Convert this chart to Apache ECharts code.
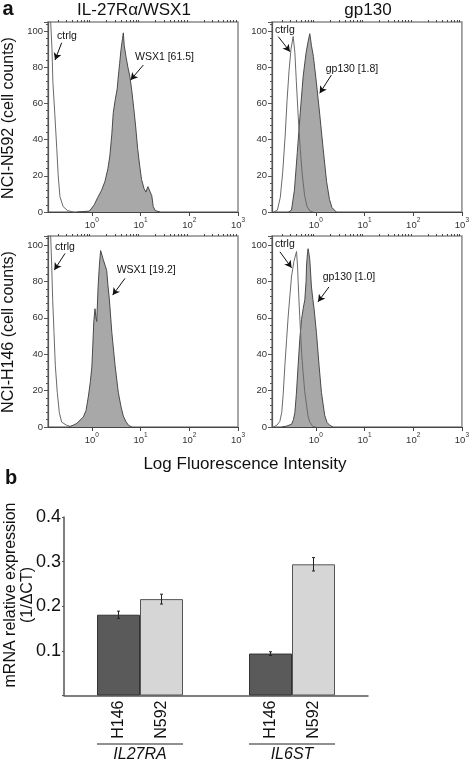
<!DOCTYPE html>
<html>
<head>
<meta charset="utf-8">
<script src="https://cdn.jsdelivr.net/npm/echarts@6/dist/echarts.min.js"></script>
<style>
html,body{margin:0;padding:0;background:#fff;}
#c{width:472px;height:763px;}
</style>
</head>
<body>
<div id="c"></div>
<script>
// ---------- DATA ----------
// Histograms: [log10(fluorescence), cell counts]
const decadeTicks = [0, 1, 2, 3];
const countTicks = [0, 20, 40, 60, 80, 100];

const n592CtrlWsx = [[-0.9,112],[-0.845,105],[-0.818,90],[-0.80,72],[-0.76,54],[-0.72,35],[-0.69,20],[-0.655,8.5],[-0.59,3],[-0.5,0.8],[-0.38,0]];
const n592Wsx1 = [[-0.3,0],[-0.05,0.5],[0.05,4],[0.12,8],[0.2,12],[0.27,17],[0.33,24],[0.37,31],[0.41,43],[0.44,55],[0.48,62],[0.52,68],[0.54,74],[0.57,82],[0.6,90],[0.63,96],[0.646,99],[0.665,92],[0.7,86],[0.74,80],[0.78,75],[0.82,67],[0.87,55],[0.9,47],[0.94,35],[0.98,26],[1.02,18],[1.07,13],[1.11,11],[1.15,14],[1.19,13],[1.23,9],[1.26,3],[1.3,0.8],[1.4,0]];

const n592CtrlGp = [[-0.86,0],[-0.79,1],[-0.73,8],[-0.68,22],[-0.63,42],[-0.59,62],[-0.55,78],[-0.51,90],[-0.465,97],[-0.43,88],[-0.40,72],[-0.36,52],[-0.32,35],[-0.28,21],[-0.23,9],[-0.18,3],[-0.12,0.5],[-0.05,0]];
const n592Gp130 = [[-0.56,0],[-0.5,1],[-0.44,12],[-0.38,33],[-0.32,55],[-0.26,75],[-0.2,88],[-0.16,94],[-0.124,98.5],[-0.09,92],[-0.05,86],[0.01,72],[0.08,54],[0.15,35],[0.22,17],[0.28,7],[0.33,2.5],[0.42,0]];

const h146CtrlWsx = [[-0.9,112],[-0.845,105],[-0.824,89],[-0.804,70],[-0.777,52],[-0.75,34],[-0.71,19],[-0.668,8],[-0.62,2.7],[-0.52,1],[-0.41,0]];
const h146Wsx1 = [[-0.48,0],[-0.38,1],[-0.31,2],[-0.175,5.5],[-0.12,9],[-0.07,17],[-0.03,25],[0,33],[0.02,45],[0.04,58],[0.065,65],[0.085,60],[0.1,58],[0.13,78],[0.155,89],[0.18,97],[0.2,98],[0.235,92],[0.27,89],[0.305,86],[0.33,78],[0.36,70],[0.41,52],[0.476,34],[0.543,19],[0.6,11],[0.646,6],[0.7,3],[0.75,1],[0.82,0]];

const h146CtrlGp = [[-0.87,0],[-0.8,1],[-0.74,3],[-0.70,8],[-0.67,18],[-0.635,34],[-0.6,48],[-0.567,61],[-0.53,73],[-0.498,83],[-0.45,91],[-0.396,96.5],[-0.375,88],[-0.363,80],[-0.34,66],[-0.314,52],[-0.29,40],[-0.261,30],[-0.23,20],[-0.191,12],[-0.16,6],[-0.124,2.7],[-0.06,0.3],[0,0]];
const h146Gp130 = [[-0.7,0],[-0.6,0.5],[-0.498,1.5],[-0.46,4],[-0.43,8],[-0.4,18],[-0.363,34],[-0.33,48],[-0.294,59],[-0.26,65],[-0.226,70],[-0.2,80],[-0.19,89],[-0.17,96],[-0.159,98],[-0.14,95],[-0.124,92],[-0.09,77],[-0.06,70],[-0.036,65],[0.012,52],[0.066,34],[0.115,19],[0.182,6.4],[0.23,2.5],[0.284,1],[0.35,0]];

// Annotations (data coordinates): label anchor, arrow start, arrow tip
const notesTL = [{text:'ctrlg', at:[-0.715,97], from:[-0.62,93.5], to:[-0.756,84]},
                 {text:'WSX1 [61.5]', at:[0.886,85.4], from:[1.056,81.2], to:[0.797,73]}];
const notesTR = [{text:'ctrlg', at:[-0.84,100.5], from:[-0.771,96.9], to:[-0.532,88.6]},
                 {text:'gp130 [1.8]', at:[0.203,79], from:[0.319,75.7], to:[0.08,65.6]}];
const notesBL = [{text:'ctrlg', at:[-0.756,98.9], from:[-0.551,95.4], to:[-0.77,86.3]},
                 {text:'WSX1 [19.2]', at:[0.51,86.3], from:[0.68,81.7], to:[0.428,72.5]}];
const notesBR = [{text:'ctrlg', at:[-0.84,100.5], from:[-0.737,96.3], to:[-0.498,87.5]},
                 {text:'gp130 [1.0]', at:[0.141,82.4], from:[0.27,77], to:[0.045,68.8]}];

// Bar chart
const genes = ['IL27RA', 'IL6ST'];
const cellLines = ['H146', 'N592'];
const h146Expr = [0.181, 0.094];
const h146Err = [0.008, 0.004];
const n592Expr = [0.216, 0.294];
const n592Err = [0.011, 0.015];
const exprTicks = [0.1, 0.2, 0.3, 0.4];

// ---------- BUILD ----------
const FONT = '"Liberation Sans", Arial, Helvetica, sans-serif';
const XMIN = -0.9, XMAX = 3;
const minorVals = [];
for (let n = -1; n <= 2; n++) for (let k = 2; k <= 9; k++) {
  const v = n + Math.log10(k);
  if (v > XMIN && v < XMAX) minorVals.push(v);
}

const grids = [
  {left:48, top:22, width:190, height:190},
  {left:272, top:22, width:191, height:190},
  {left:48, top:236, width:190, height:191},
  {left:272, top:236, width:191, height:191},
  {left:64, top:517, width:304, height:181}
];
grids.forEach((g,i)=>{ if(i<4){ g.show=true; g.borderColor='#8a8a8a'; g.borderWidth=1.5; } });

const xAxes = [], yAxes = [], series = [];
for (let i = 0; i < 4; i++) {
  xAxes.push({
    type:'value', gridIndex:i, min:XMIN, max:XMAX,
    axisLine:{show:true, onZero:false, lineStyle:{color:'#444', width:1.2}},
    axisTick:{show:true, customValues:decadeTicks, length:4, lineStyle:{color:'#444'}},
    axisLabel:{show:true, customValues:decadeTicks, margin:5,
      formatter: v => '{b|10}{s|' + Math.round(v) + '}',
      rich:{ b:{fontSize:9.5, fontFamily:FONT, color:'#333', lineHeight:13, verticalAlign:'bottom'},
             s:{fontSize:6.5, fontFamily:FONT, color:'#333', lineHeight:7, verticalAlign:'top'} }},
    splitLine:{show:false}
  });
  xAxes.push({
    type:'value', gridIndex:i, min:XMIN, max:XMAX,
    axisLine:{show:false, onZero:false},
    axisTick:{show:true, customValues:minorVals, length:2, lineStyle:{color:'#444'}},
    axisLabel:{show:false, customValues:minorVals},
    splitLine:{show:false}
  });
  yAxes.push({
    type:'value', gridIndex:i, min:0, max:105, interval:20,
    axisLine:{show:true, onZero:false, lineStyle:{color:'#555', width:1.2}},
    axisTick:{show:true, length:4, lineStyle:{color:'#555'}},
    minorTick:{show:true, splitNumber:5, length:2, lineStyle:{color:'#555'}},
    axisLabel:{fontSize:9.5, fontFamily:FONT, color:'#333', margin:5,
      formatter: v => countTicks.indexOf(v) >= 0 ? String(v) : ''},
    splitLine:{show:false}
  });
}

const panels = [
  {fill:n592Wsx1, ctrl:n592CtrlWsx, notes:notesTL},
  {fill:n592Gp130, ctrl:n592CtrlGp, notes:notesTR},
  {fill:h146Wsx1, ctrl:h146CtrlWsx, notes:notesBL},
  {fill:h146Gp130, ctrl:h146CtrlGp, notes:notesBR}
];
panels.forEach((p, i) => {
  series.push({
    type:'line', xAxisIndex:2*i, yAxisIndex:i, data:p.fill, showSymbol:false, smooth:false,
    lineStyle:{color:'#4a4a4a', width:1}, areaStyle:{color:'#a8a8a8', opacity:1}, z:2
  });
  series.push({
    type:'line', xAxisIndex:2*i, yAxisIndex:i, data:p.ctrl, showSymbol:false, smooth:false,
    lineStyle:{color:'#6a6a6a', width:1}, z:3,
    markLine:{
      silent:true, symbol:['none','arrow'], symbolSize:[6,7],
      lineStyle:{color:'#111', width:1, type:'solid'}, label:{show:false},
      data: p.notes.map(n => [{coord:n.from}, {coord:n.to}])
    },
    markPoint:{
      silent:true, symbol:'circle', symbolSize:0,
      label:{show:true, position:'inside', align:'left', verticalAlign:'middle',
        fontSize:10.5, fontFamily:FONT, color:'#111', formatter: d => d.name},
      data: p.notes.map(n => ({name:n.text, coord:n.at}))
    }
  });
});

// Bar chart axes
xAxes.push({
  type:'category', gridIndex:4, data:genes,
  axisLine:{show:true, onZero:false, lineStyle:{color:'#555', width:1.5}},
  axisTick:{show:false},
  axisLabel:{margin:47, interval:0,
    formatter: v => '{ln|}\n{nm|' + v + '}',
    rich:{ ln:{width:86, height:1, lineHeight:3, backgroundColor:'#222'},
           nm:{fontSize:16, fontStyle:'italic', fontFamily:FONT, color:'#111', lineHeight:19} }},
  splitLine:{show:false}
});
yAxes.push({
  type:'value', gridIndex:4, min:0, max:0.4, interval:0.1,
  axisLine:{show:true, lineStyle:{color:'#555', width:1.5}},
  axisTick:{show:true, length:2, lineStyle:{color:'#555'}},
  axisLabel:{fontSize:18, fontFamily:FONT, color:'#111', margin:3,
    formatter: v => exprTicks.some(t => Math.abs(t - v) < 1e-9) ? v.toFixed(1) : ''},
  splitLine:{show:false}
});

const BAR_W = 43;
function barLabel(name){
  return {show:true, position:'bottom', distance:5, rotate:90, align:'right', verticalAlign:'middle',
    fontSize:16, fontFamily:FONT, color:'#111', formatter: () => name};
}
series.push({
  type:'bar', name:cellLines[0], xAxisIndex:8, yAxisIndex:4, data:h146Expr,
  barWidth:BAR_W, barGap:'0%',
  itemStyle:{color:'#5a5a5a', borderColor:'#333', borderWidth:1},
  label:barLabel(cellLines[0])
});
series.push({
  type:'bar', name:cellLines[1], xAxisIndex:8, yAxisIndex:4, data:n592Expr,
  barWidth:BAR_W, barGap:'0%',
  itemStyle:{color:'#d6d6d6', borderColor:'#555', borderWidth:1},
  label:barLabel(cellLines[1])
});
const errData = [];
genes.forEach((g, i) => {
  errData.push([i, h146Expr[i], h146Err[i], -1]);
  errData.push([i, n592Expr[i], n592Err[i], 1]);
});
series.push({
  type:'custom', xAxisIndex:8, yAxisIndex:4, data:errData, z:10, silent:true,
  renderItem:(params, api) => {
    const cat = api.value(0), val = api.value(1), err = api.value(2), side = api.value(3);
    const c = api.coord([cat, val]);
    const x = c[0] + side * BAR_W / 2;
    const yt = api.coord([cat, val + err])[1];
    const yb = api.coord([cat, val - err])[1];
    const st = {stroke:'#222', lineWidth:1};
    return {type:'group', children:[
      {type:'line', shape:{x1:x, y1:yt, x2:x, y2:yb}, style:st},
      {type:'line', shape:{x1:x-1.5, y1:yt, x2:x+1.5, y2:yt}, style:st},
      {type:'line', shape:{x1:x-1.5, y1:yb, x2:x+1.5, y2:yb}, style:st}
    ]};
  }
});

const txt = (text, x, y, size, opts={}) => Object.assign({
  type:'text', x:x, y:y, silent:true,
  style:{text:text, fontSize:size, fontFamily:FONT, fill:'#111', align:'center', verticalAlign:'middle',
    fontWeight: opts.bold ? 'bold' : 'normal'}
}, opts.rot ? {rotation:Math.PI/2} : {});

const option = {
  animation:false,
  backgroundColor:'#fff',
  grid:grids,
  xAxis:xAxes,
  yAxis:yAxes,
  series:series,
  graphic:[
    txt('a', 8, 9, 20, {bold:true}),
    txt('b', 11, 478, 20, {bold:true}),
    txt('IL-27R\u03b1/WSX1', 134, 10, 17),
    txt('gp130', 368, 10, 17),
    txt('NCI-N592 (cell counts)', 9, 118, 16, {rot:true}),
    txt('NCI-H146 (cell counts)', 9, 332, 16, {rot:true}),
    txt('Log Fluorescence Intensity', 245, 464, 17),
    txt('mRNA relative expression', 11, 595, 16, {rot:true}),
    txt('(1/\u0394CT)', 28, 595, 16, {rot:true})
  ]
};

const chart = echarts.init(document.getElementById('c'), null, {renderer:'canvas'});
chart.setOption(option);
</script>
</body>
</html>
